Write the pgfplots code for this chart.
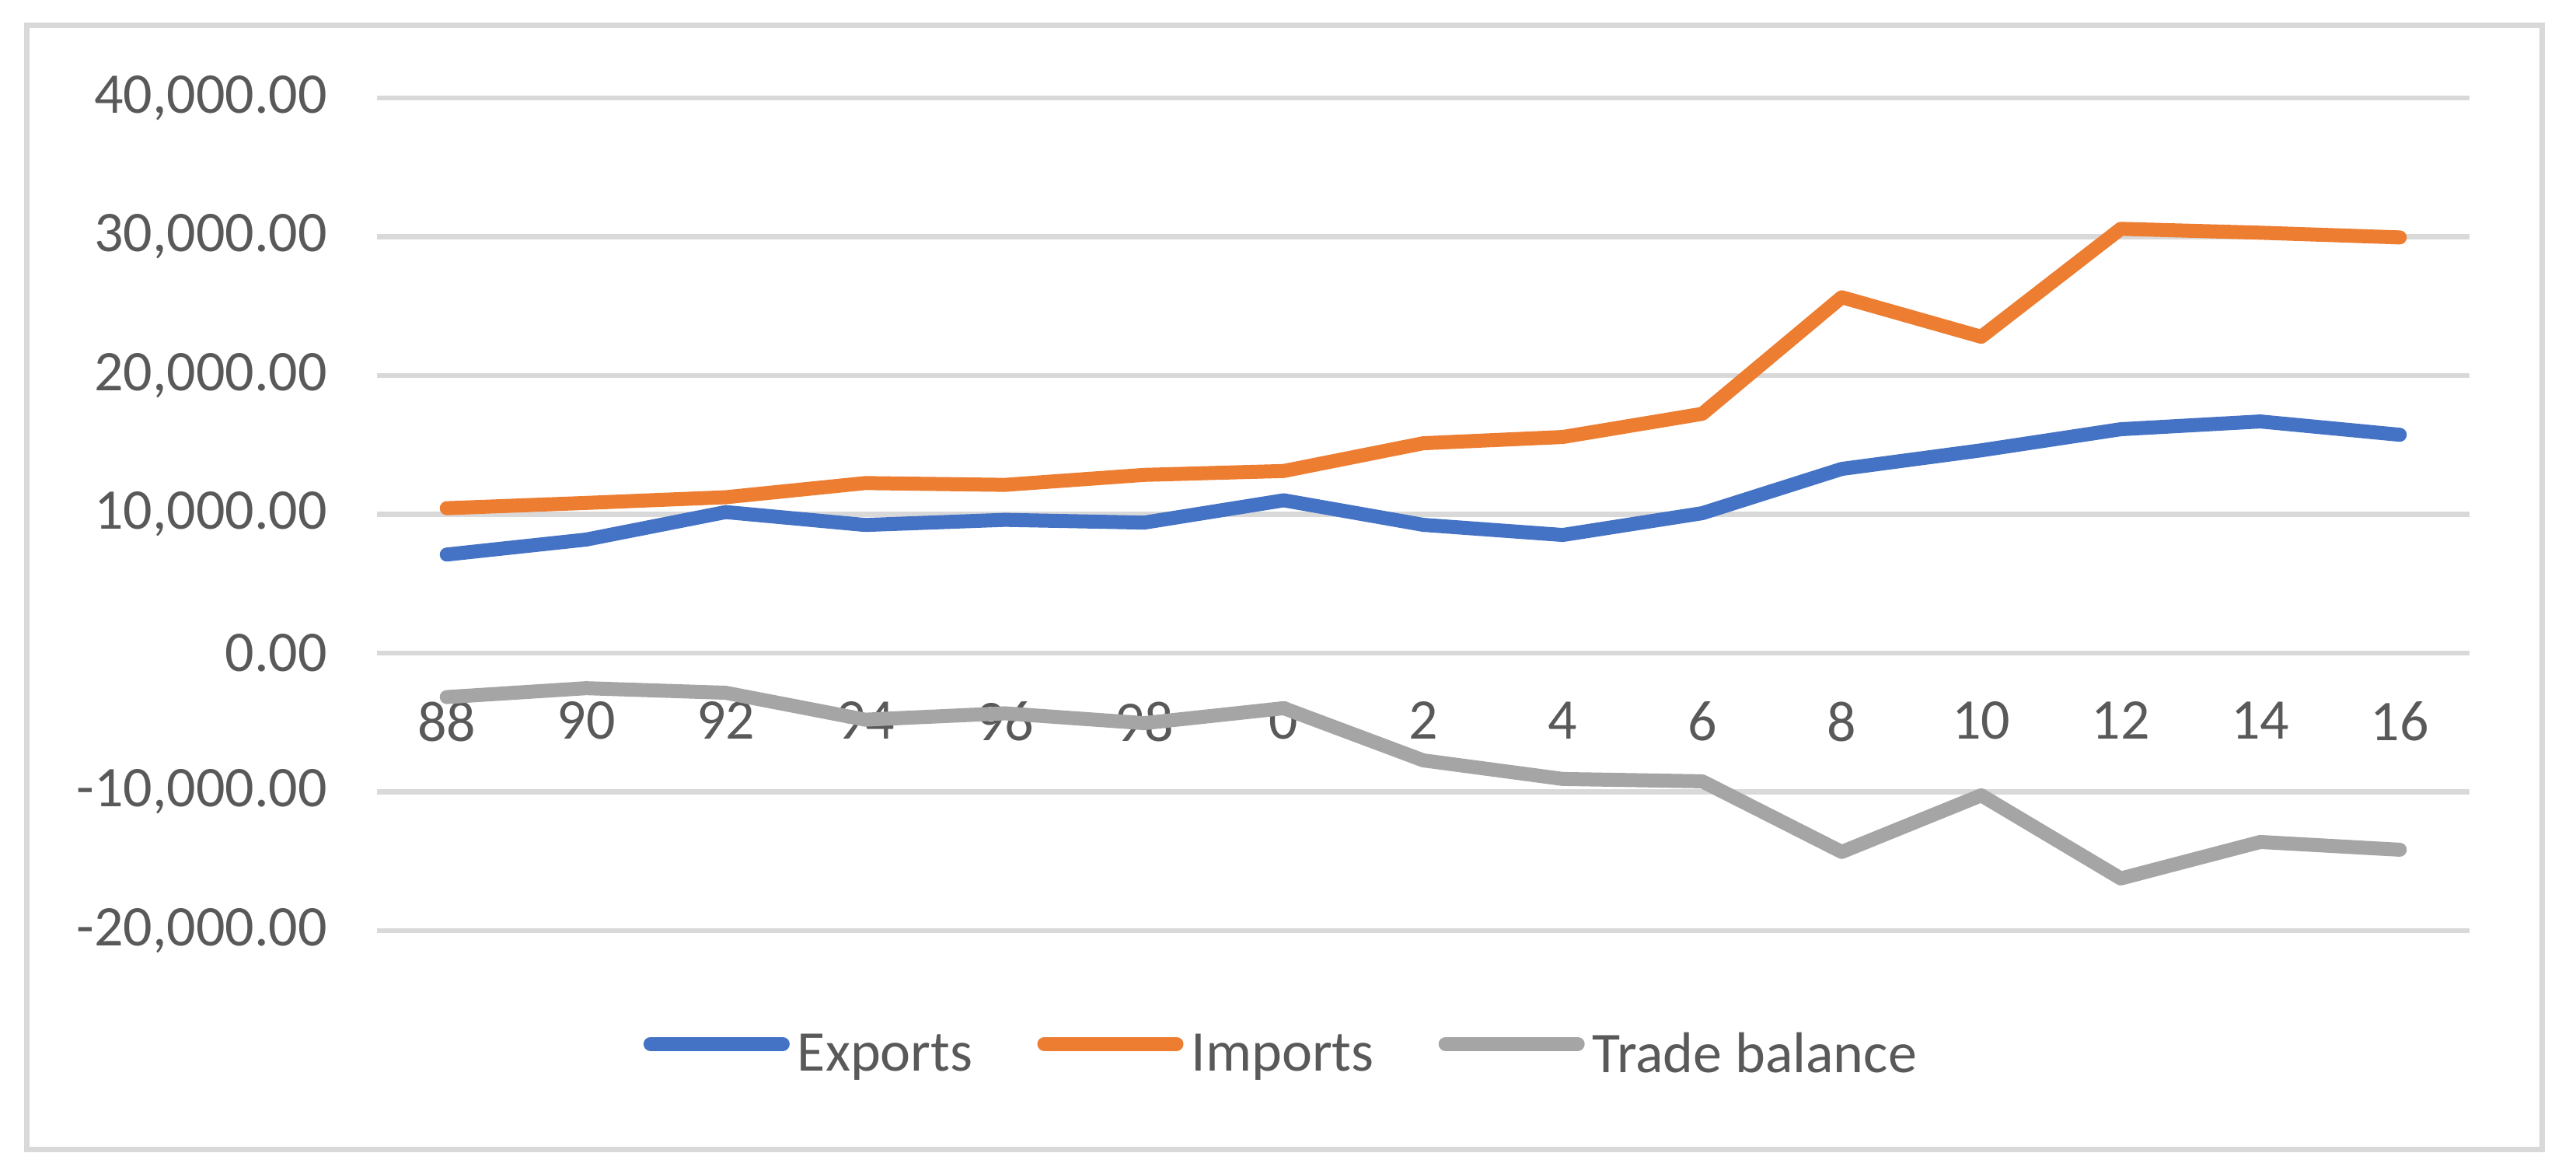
\documentclass[border=0pt]{standalone}
\usepackage{fontspec}
\setmainfont{Carlito}
\usepackage{pgfplots}
\pgfplotsset{compat=1.18}

\definecolor{cexp}{HTML}{4472C4}
\definecolor{cimp}{HTML}{ED7D31}
\definecolor{cbal}{HTML}{A5A5A5}
\definecolor{gridc}{HTML}{D9D9D9}
\definecolor{textc}{HTML}{595959}

\begin{document}
\begin{tikzpicture}
  \useasboundingbox (0,0) rectangle (662.8pt,302pt);
  \fill[white] (0,0) rectangle (662.8pt,302pt);
  \draw[gridc, line width=1.4pt] (6.8pt,6.2pt) rectangle (654pt,295.4pt);

  \begin{axis}[
      at={(97pt,62.6pt)}, anchor=south west,
      scale only axis,
      width=538.4pt, height=214.2pt,
      xmin=-0.5, xmax=14.5,
      ymin=-20000, ymax=40000,
      axis x line=middle, axis y line=left,
      axis line style={draw=none,-},
      hide obscured x ticks=false, hide obscured y ticks=false,
      scaled y ticks=false,
      major tick length=0pt,
      xtick={0,...,14},
      xticklabels={88,90,92,94,96,98,0,2,4,6,8,10,12,14,16},
      ytick={-20000,-10000,0,10000,20000,30000,40000},
      yticklabels={{-20,000.00},{-10,000.00},{0.00},{10,000.00},{20,000.00},{30,000.00},{40,000.00}},
      ymajorgrids,
      major grid style={gridc, line width=1.3pt},
      tick label style={font=\fontsize{14.8pt}{17pt}\selectfont, text=textc},
      xticklabel style={yshift=-9pt},
      yticklabel style={xshift=-9.3pt},
      legend columns=3,
      legend style={
        at={(0.4335,-0.150)}, anchor=center,
        draw=none, fill=none,
        font=\fontsize{14.8pt}{17pt}\selectfont, text=textc,
        /tikz/every even column/.append style={column sep=14.6pt}
      },
      legend image code/.code={
        \draw[#1, line cap=round, line width=3.6pt] (0pt,0.3em) -- (34pt,0.3em);
      },
    ]

    \addplot[cexp, line width=3.6pt, line join=round, line cap=round] coordinates {
      (0,7100) (1,8180) (2,10160) (3,9230) (4,9600) (5,9400) (6,11010)
      (7,9240) (8,8510) (9,10080) (10,13270) (11,14610) (12,16130)
      (13,16690) (14,15730)
    };
    \addlegendentry{Exports}

    \addplot[cimp, line width=3.6pt, line join=round, line cap=round] coordinates {
      (0,10440) (1,10820) (2,11230) (3,12250) (4,12120) (5,12840) (6,13120)
      (7,15120) (8,15570) (9,17240) (10,25640) (11,22790) (12,30570)
      (13,30290) (14,29950)
    };
    \addlegendentry{Imports}

    \addplot[cbal, line width=3.6pt, line join=round, line cap=round] coordinates {
      (0,-3170) (1,-2530) (2,-2860) (3,-4800) (4,-4340) (5,-5050) (6,-3970)
      (7,-7730) (8,-9070) (9,-9240) (10,-14330) (11,-10250) (12,-16240)
      (13,-13610) (14,-14170)
    };
    \addlegendentry{Trade balance}

  \end{axis}
\end{tikzpicture}
\end{document}
